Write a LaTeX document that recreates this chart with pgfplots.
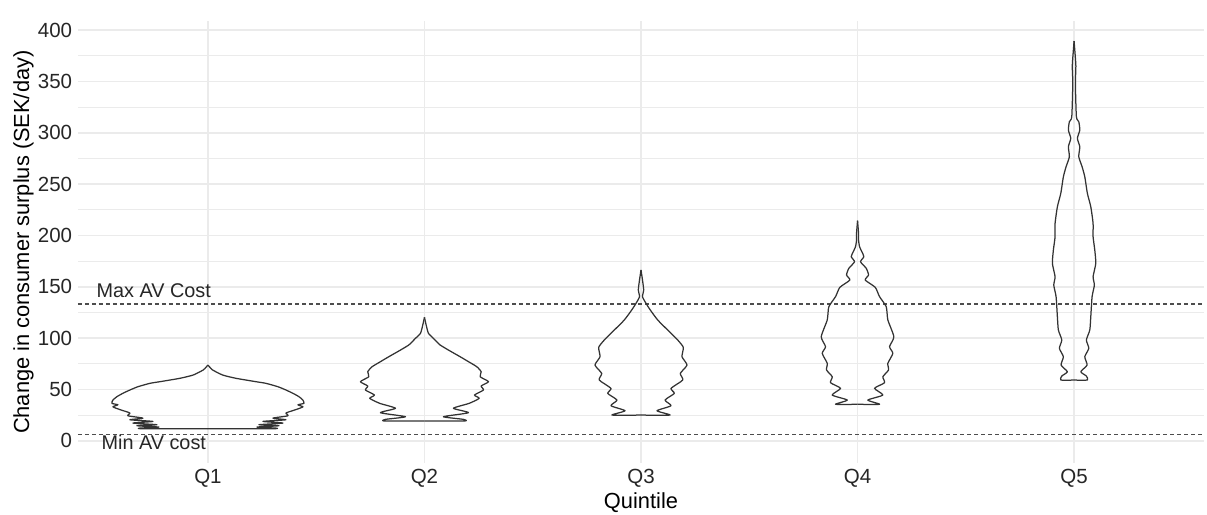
\documentclass[border=0pt]{standalone}
\usepackage{fontspec}
\setmainfont{Liberation Sans}
\usepackage{pgfplots}
\pgfplotsset{compat=1.18}
\usepackage{pgfplotstable}

\definecolor{gridc}{HTML}{EBEBEB}
\definecolor{violc}{HTML}{333333}
\definecolor{dashc}{HTML}{4D4D4D}

% violin outlines: y = value, w = half width (pixels of the reference, 216.5 px = 1 category)
\pgfplotstableread{
y w
11.7 0
11.7 65
12.3 68
13.3 49
14.6 71
15.6 51
17.2 75
18.8 55
20.4 78
22.0 65
24.3 80
27.0 78
30.0 87
33.0 95
35.0 90
36.4 96
39.6 95
42.9 91
46.2 85
49.4 78
52.6 70
55.9 58
57.5 48
60.8 28
64.0 14.7
68.9 4.7
71.5 2
73.7 0
}\qone

\pgfplotstableread{
y w
19.2 0
19.2 40
20.8 39
23.4 19
27.3 44
31.6 29
36.4 44.7
41.3 54.7
44.5 50
49.4 59
53.3 56.7
57.5 64
62.3 55.7
67.2 56.7
72.1 52.3
77.0 44
81.8 35.7
88.3 24
93.2 15.7
96.4 12.3
99.7 9
104.6 4
112.7 1.7
120.2 0
}\qtwo

\pgfplotstableread{
y w
25.0 0
25.0 29
29.2 16
34.1 30
39.6 24
46.1 33.3
51.0 30
59.1 41.7
65.6 39.3
73.7 46
81.8 41
90.9 42.3
98.1 36.7
107.8 26.7
117.6 16.7
127.3 9.3
133.8 5
140.3 1.5
146.8 2.7
156.5 1.5
166.3 0
}\qthree

\pgfplotstableread{
y w
35.5 0
35.5 22
39.6 10.3
44.5 25.3
51.0 17
56.5 27
62.3 25.3
68.9 31
75.4 30.3
85.1 35.3
91.6 32
101.3 36.3
117.6 30.3
130.5 28.7
140.3 22
149.4 17.7
156.5 7.7
161.4 11
167.9 8.7
174.3 3
179.2 6.3
184.1 4.3
189.0 2
195.5 1
202.0 1
214.3 0
}\qfour

\pgfplotstableread{
y w
59.1 0
59.1 13.3
63.0 12.3
67.2 6.7
73.7 13
81.8 10.7
90.0 14.7
98.1 12.3
107.8 15.7
120.8 16.7
140.3 18
151.6 20.3
159.7 19
172.8 21.7
185.7 20.7
198.7 19
211.7 19
227.9 16.7
240.9 13.3
257.1 10.7
266.9 8
276.6 4.7
286.4 5.7
294.5 3.3
302.6 5.7
310.7 4.7
315.6 2.3
348.0 1.3
365.0 1.8
380.5 0.7
389.3 0
}\qfive

\newcommand\fs{\fontsize{12.3pt}{14pt}\selectfont}
\newcommand\ft{\fontsize{13.1pt}{15pt}\selectfont}
\newcommand\fa{\fontsize{11.9pt}{14pt}\selectfont}

\begin{document}
\begin{tikzpicture}
\begin{axis}[
  name=ax,
  scale only axis,
  width=675.6pt, height=265pt,
  xmin=0.4, xmax=5.6,
  ymin=-21.7, ymax=408.5,
  xtick={1,2,3,4,5},
  xticklabels={Q1,Q2,Q3,Q4,Q5},
  ytick={0,50,100,150,200,250,300,350,400},
  minor ytick={25,75,125,175,225,275,325,375},
  axis line style={draw=none},
  tick style={draw=none},
  major tick length=0pt, minor tick length=0pt,
  xmajorgrids, ymajorgrids, yminorgrids,
  major grid style={color=gridc, line width=1pt},
  minor grid style={color=gridc, line width=0.55pt},
  /pgf/number format/assume math mode=true,
  tick label style={font=\fs, text=black!85},
  xlabel={Quintile},
  ylabel={Change in consumer surplus (SEK/day)},
  label style={font=\ft, text=black},
  xlabel style={at={(axis description cs:0.5,-0.104)}, anchor=base},
  ylabel style={at={(axis description cs:-0.0435,0.5)}, anchor=base},
  vio/.style={color=violc, line width=0.75pt, line join=round, mark=none, smooth, tension=0.35},
]
\addplot[dashc, line width=0.8pt, dash pattern=on 2.4pt off 1.8pt, mark=none]
  coordinates {(0.4,133.2) (5.6,133.2)};
\addplot[dashc, line width=0.8pt, dash pattern=on 2.4pt off 1.8pt, mark=none]
  coordinates {(0.4,6.3) (5.6,6.3)};
\node[font=\fa, text=black!85] at (axis cs:0.75,146.5) {Max AV Cost};
\node[font=\fa, text=black!85] at (axis cs:0.75,-1.5) {Min AV cost};

\addplot[vio] table[x expr=1+\thisrow{w}/216.5, y=y] {\qone};
\addplot[vio] table[x expr=1-\thisrow{w}/216.5, y=y] {\qone};
\addplot[vio] table[x expr=2+\thisrow{w}/216.5, y=y] {\qtwo};
\addplot[vio] table[x expr=2-\thisrow{w}/216.5, y=y] {\qtwo};
\addplot[vio] table[x expr=3+\thisrow{w}/216.5, y=y] {\qthree};
\addplot[vio] table[x expr=3-\thisrow{w}/216.5, y=y] {\qthree};
\addplot[vio] table[x expr=4+\thisrow{w}/216.5, y=y] {\qfour};
\addplot[vio] table[x expr=4-\thisrow{w}/216.5, y=y] {\qfour};
\addplot[vio] table[x expr=5+\thisrow{w}/216.5, y=y] {\qfive};
\addplot[vio] table[x expr=5-\thisrow{w}/216.5, y=y] {\qfive};
\end{axis}
\pgfresetboundingbox
\path[use as bounding box] (ax.south west) ++(-46.8pt,-30.6pt) rectangle ++(724.2pt,308.4pt);
\end{tikzpicture}
\end{document}
